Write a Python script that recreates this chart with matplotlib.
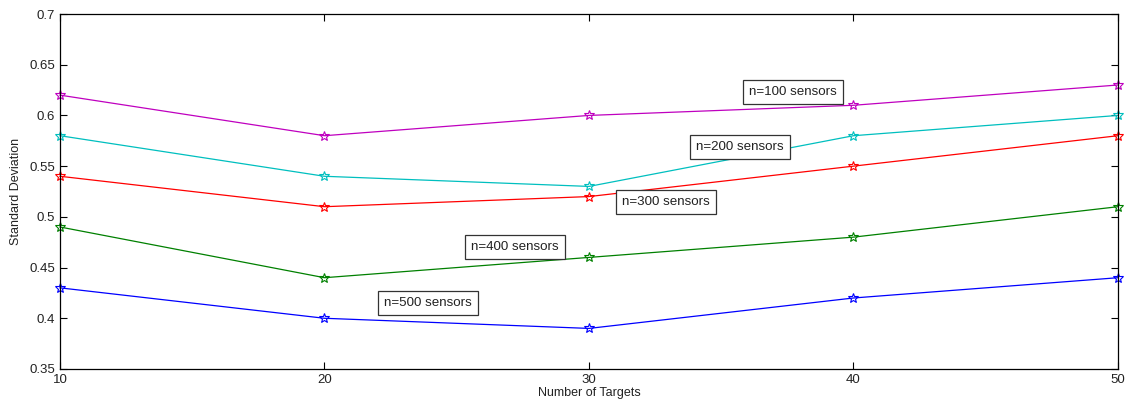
import matplotlib
matplotlib.use("Agg")
import matplotlib.pyplot as plt

targets = [10, 20, 30, 40, 50]
std_n100 = [0.62, 0.58, 0.60, 0.61, 0.63]
std_n200 = [0.58, 0.54, 0.53, 0.58, 0.60]
std_n300 = [0.54, 0.51, 0.52, 0.55, 0.58]
std_n400 = [0.49, 0.44, 0.46, 0.48, 0.51]
std_n500 = [0.43, 0.40, 0.39, 0.42, 0.44]

series = [
    (std_n100, "m", "n=100 sensors", (37.7, 0.623)),
    (std_n200, "c", "n=200 sensors", (35.7, 0.569)),
    (std_n300, "r", "n=300 sensors", (32.9, 0.515)),
    (std_n400, "g", "n=400 sensors", (27.2, 0.470)),
    (std_n500, "b", "n=500 sensors", (23.9, 0.415)),
]

plt.rcParams["font.family"] = ["Liberation Sans", "DejaVu Sans"]

fig = plt.figure(figsize=(11.32, 4.07), dpi=100)
ax = fig.add_axes([0.053, 0.0934, 0.9346, 0.8722])

for vals, col, label, (tx, ty) in series:
    ax.plot(targets, vals, color=col, lw=0.9, marker="*", markersize=7,
            markerfacecolor="none", markeredgecolor=col, markeredgewidth=0.8,
            clip_on=False)
    ax.text(tx, ty, label, ha="center", va="center", fontsize=9.6, color="#222222",
            bbox=dict(boxstyle="square,pad=0.45", fc="white", ec="#333333", lw=0.9))

ax.set_xlim(10, 50)
ax.set_ylim(0.35, 0.7)
ax.set_xticks(targets)
ax.set_yticks([0.35, 0.4, 0.45, 0.5, 0.55, 0.6, 0.65, 0.7])
ax.set_yticklabels(["0.35", "0.4", "0.45", "0.5", "0.55", "0.6", "0.65", "0.7"])
ax.tick_params(direction="in", top=True, right=True, labelsize=9.5, length=5, width=0.8,
               labelcolor="#222222")
for s in ax.spines.values():
    s.set_linewidth(0.9)
ax.set_xlabel("Number of Targets", fontsize=9, labelpad=1, color="#222222")
ax.set_ylabel("Standard Deviation", fontsize=9, labelpad=5, color="#222222")

fig.savefig("out.png", dpi=100)
